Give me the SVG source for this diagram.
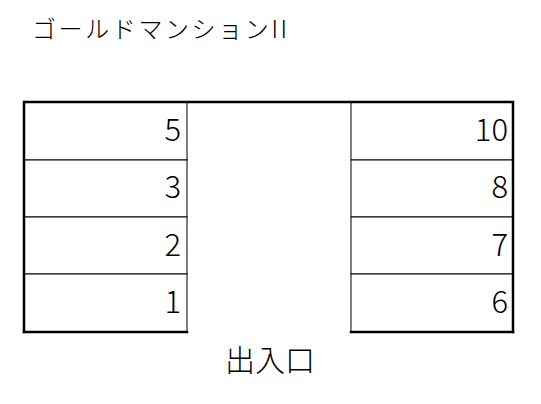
<svg xmlns="http://www.w3.org/2000/svg" width="541" height="404" viewBox="0 0 541 404">
<style>
.cell{fill:#fff;stroke:#000;stroke-width:1}
.outer{fill:none;stroke:#000;stroke-width:2.5;stroke-linecap:square}
.num{font-family:"Noto Sans CJK JP","Noto Sans",sans-serif;font-weight:300;font-size:31px;text-anchor:end;fill:#000}
.title{font-family:"Noto Sans CJK JP",sans-serif;font-weight:300;font-size:24px;fill:#000}
.entrance{font-family:"Noto Sans CJK JP",sans-serif;font-weight:300;font-size:30px;text-anchor:middle;fill:#000}
</style>
<rect width="541" height="404" fill="#fff"/>
<text id="title" class="title" x="32" y="38" letter-spacing="2.6">ゴールドマンションII</text>
<g id="left-column">
<g id="cell-5"><rect class="cell" x="24" y="102" width="163" height="58"/><text class="num" x="181" y="141">5</text></g>
<g id="cell-3"><rect class="cell" x="24" y="160" width="163" height="57"/><text class="num" x="181" y="198">3</text></g>
<g id="cell-2"><rect class="cell" x="24" y="217" width="163" height="57"/><text class="num" x="181" y="256">2</text></g>
<g id="cell-1"><rect class="cell" x="24" y="274" width="163" height="58"/><text class="num" x="181" y="313">1</text></g>
</g>
<g id="right-column">
<g id="cell-10"><rect class="cell" x="351" y="102" width="162" height="58"/><text class="num" x="508" y="141">10</text></g>
<g id="cell-8"><rect class="cell" x="351" y="160" width="162" height="57"/><text class="num" x="508" y="198">8</text></g>
<g id="cell-7"><rect class="cell" x="351" y="217" width="162" height="57"/><text class="num" x="508" y="256">7</text></g>
<g id="cell-6"><rect class="cell" x="351" y="274" width="162" height="58"/><text class="num" x="508" y="313">6</text></g>
</g>
<g id="outline">
<path class="outer" d="M24,332 V102 H513 V332"/>
<path class="outer" d="M24,332 H187 M351,332 H513"/>
</g>
<g id="entrance">
<text class="entrance" x="270" y="371">出入口</text>
</g>
</svg>
